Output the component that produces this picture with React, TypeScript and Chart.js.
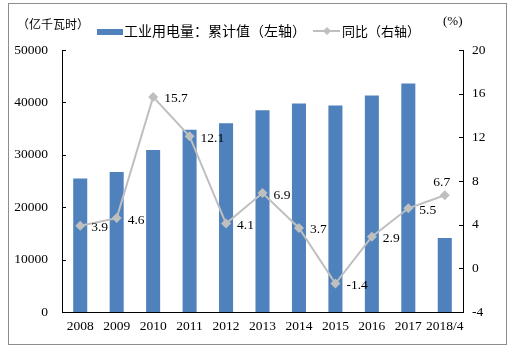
import React, { useEffect, useRef } from "react";
import { Chart, registerables } from "chart.js";

Chart.register(...registerables);

const categories = ["2008", "2009", "2010", "2011", "2012", "2013", "2014", "2015", "2016", "2017", "2018/4"];
const electricity = [25500, 26700, 30900, 34800, 36000, 38500, 39800, 39400, 41300, 43600, 14100];
const yoy = [3.9, 4.6, 15.7, 12.1, 4.1, 6.9, 3.7, -1.4, 2.9, 5.5, 6.7];
const leftTicks = [0, 10000, 20000, 30000, 40000, 50000];
const rightTicks = [-4, 0, 4, 8, 12, 16, 20];

const barLabel = "工业用电量：累计值（左轴）";
const lineLabel = "同比（右轴）";
const leftUnit = "（亿千瓦时）";
const rightUnit = "(%)";

const BLUE = "#4F81BD";
const GRAY = "#BFBFBF";
const SERIF = "'Liberation Serif', 'Times New Roman', serif";
const CJK = "'Noto Sans CJK SC', sans-serif";
const NUM_SIZE = 13.5;

const overlay = {
  id: "overlay",
  afterDraw(chart: any) {
    const ctx = chart.ctx;
    const area = chart.chartArea;
    const y = chart.scales.y;
    const y1 = chart.scales.y1;
    ctx.save();
    // inner tick marks
    ctx.strokeStyle = "#000";
    ctx.lineWidth = 1;
    leftTicks.forEach((v) => {
      const py = Math.round(y.getPixelForValue(v)) + 0.5;
      ctx.beginPath();
      ctx.moveTo(area.left, py);
      ctx.lineTo(area.left + 4, py);
      ctx.stroke();
    });
    rightTicks.forEach((v) => {
      const py = Math.round(y1.getPixelForValue(v)) + 0.5;
      ctx.beginPath();
      ctx.moveTo(area.right - 4, py);
      ctx.lineTo(area.right, py);
      ctx.stroke();
    });
    // units
    ctx.fillStyle = "#000";
    ctx.textBaseline = "middle";
    ctx.textAlign = "left";
    ctx.font = `12px ${CJK}`;
    ctx.fillText(leftUnit, 17, 24);
    ctx.font = `13px ${SERIF}`;
    ctx.fillText(rightUnit, 443, 22);
    // legend
    ctx.fillStyle = BLUE;
    ctx.fillRect(97, 29, 26, 6);
    ctx.fillStyle = "#000";
    ctx.font = `14px ${CJK}`;
    ctx.fillText(barLabel, 124, 31);
    ctx.strokeStyle = GRAY;
    ctx.lineWidth = 2;
    ctx.beginPath();
    ctx.moveTo(313, 31);
    ctx.lineTo(340, 31);
    ctx.stroke();
    ctx.fillStyle = GRAY;
    ctx.beginPath();
    ctx.moveTo(327, 27);
    ctx.lineTo(331, 31);
    ctx.lineTo(327, 35);
    ctx.lineTo(323, 31);
    ctx.closePath();
    ctx.fill();
    ctx.fillStyle = "#000";
    ctx.font = `13px ${CJK}`;
    ctx.fillText(lineLabel, 342, 31);
    // data labels
    const meta = chart.getDatasetMeta(1);
    ctx.font = `${NUM_SIZE}px ${SERIF}`;
    meta.data.forEach((pt: any, i: number) => {
      const txt = yoy[i].toFixed(1);
      if (i === yoy.length - 1) {
        ctx.textAlign = "center";
        ctx.fillText(txt, pt.x - 3, pt.y - 13);
      } else {
        ctx.textAlign = "left";
        ctx.fillText(txt, pt.x + 11, pt.y + 2);
      }
    });
    ctx.restore();
  },
};

export default function App() {
  const ref = useRef<HTMLCanvasElement>(null);
  useEffect(() => {
    const chart = new Chart(ref.current!, {
      type: "bar",
      data: {
        labels: categories,
        datasets: [
          {
            type: "bar",
            label: barLabel,
            data: electricity,
            backgroundColor: BLUE,
            yAxisID: "y",
            barPercentage: 0.385,
            categoryPercentage: 1,
            order: 2,
          },
          {
            type: "line",
            label: lineLabel,
            data: yoy,
            borderColor: GRAY,
            backgroundColor: GRAY,
            borderWidth: 2,
            pointStyle: "rectRot",
            pointRadius: 5,
            pointBorderWidth: 0,
            yAxisID: "y1",
            tension: 0,
            order: 1,
          } as any,
        ],
      },
      options: {
        animation: false,
        responsive: false,
        maintainAspectRatio: false,
        layout: { padding: { top: 50, left: 0, right: 0, bottom: 0 } },
        plugins: { legend: { display: false }, tooltip: { enabled: false }, title: { display: false } },
        scales: {
          x: {
            grid: { display: false, drawTicks: false },
            border: { display: true, color: "#000", width: 1 },
            ticks: { color: "#000", font: { family: SERIF, size: NUM_SIZE }, padding: 6, maxRotation: 0, autoSkip: false },
            afterFit: (s: any) => { s.height = 37; },
          },
          y: {
            position: "left",
            min: 0,
            max: 50000,
            afterBuildTicks: (s: any) => { s.ticks = leftTicks.map((v) => ({ value: v })); },
            grid: { display: false, drawTicks: false },
            border: { display: true, color: "#000", width: 1 },
            ticks: { color: "#000", font: { family: SERIF, size: NUM_SIZE }, padding: 14, callback: (v: any) => String(v) },
            afterFit: (s: any) => { s.width = 62; },
          },
          y1: {
            position: "right",
            min: -4,
            max: 20,
            afterBuildTicks: (s: any) => { s.ticks = rightTicks.map((v) => ({ value: v })); },
            grid: { display: false, drawTicks: false },
            border: { display: true, color: "#000", width: 1 },
            ticks: { color: "#000", font: { family: SERIF, size: NUM_SIZE }, padding: 9, callback: (v: any) => String(v) },
            afterFit: (s: any) => { s.width = 50; },
          },
        },
      },
      plugins: [overlay],
    });
    return () => chart.destroy();
  }, []);
  return (
    <div style={{ position: "fixed", left: 0, top: 0, width: 513, height: 349, background: "#fff" }}>
      <div style={{ position: "absolute", left: 8, top: 3, width: 497, height: 340, border: "1px solid #8c8c8c" }} />
      <canvas ref={ref} width={513} height={349} style={{ position: "absolute", left: 0, top: 0, width: 513, height: 349 }} />
    </div>
  );
}
